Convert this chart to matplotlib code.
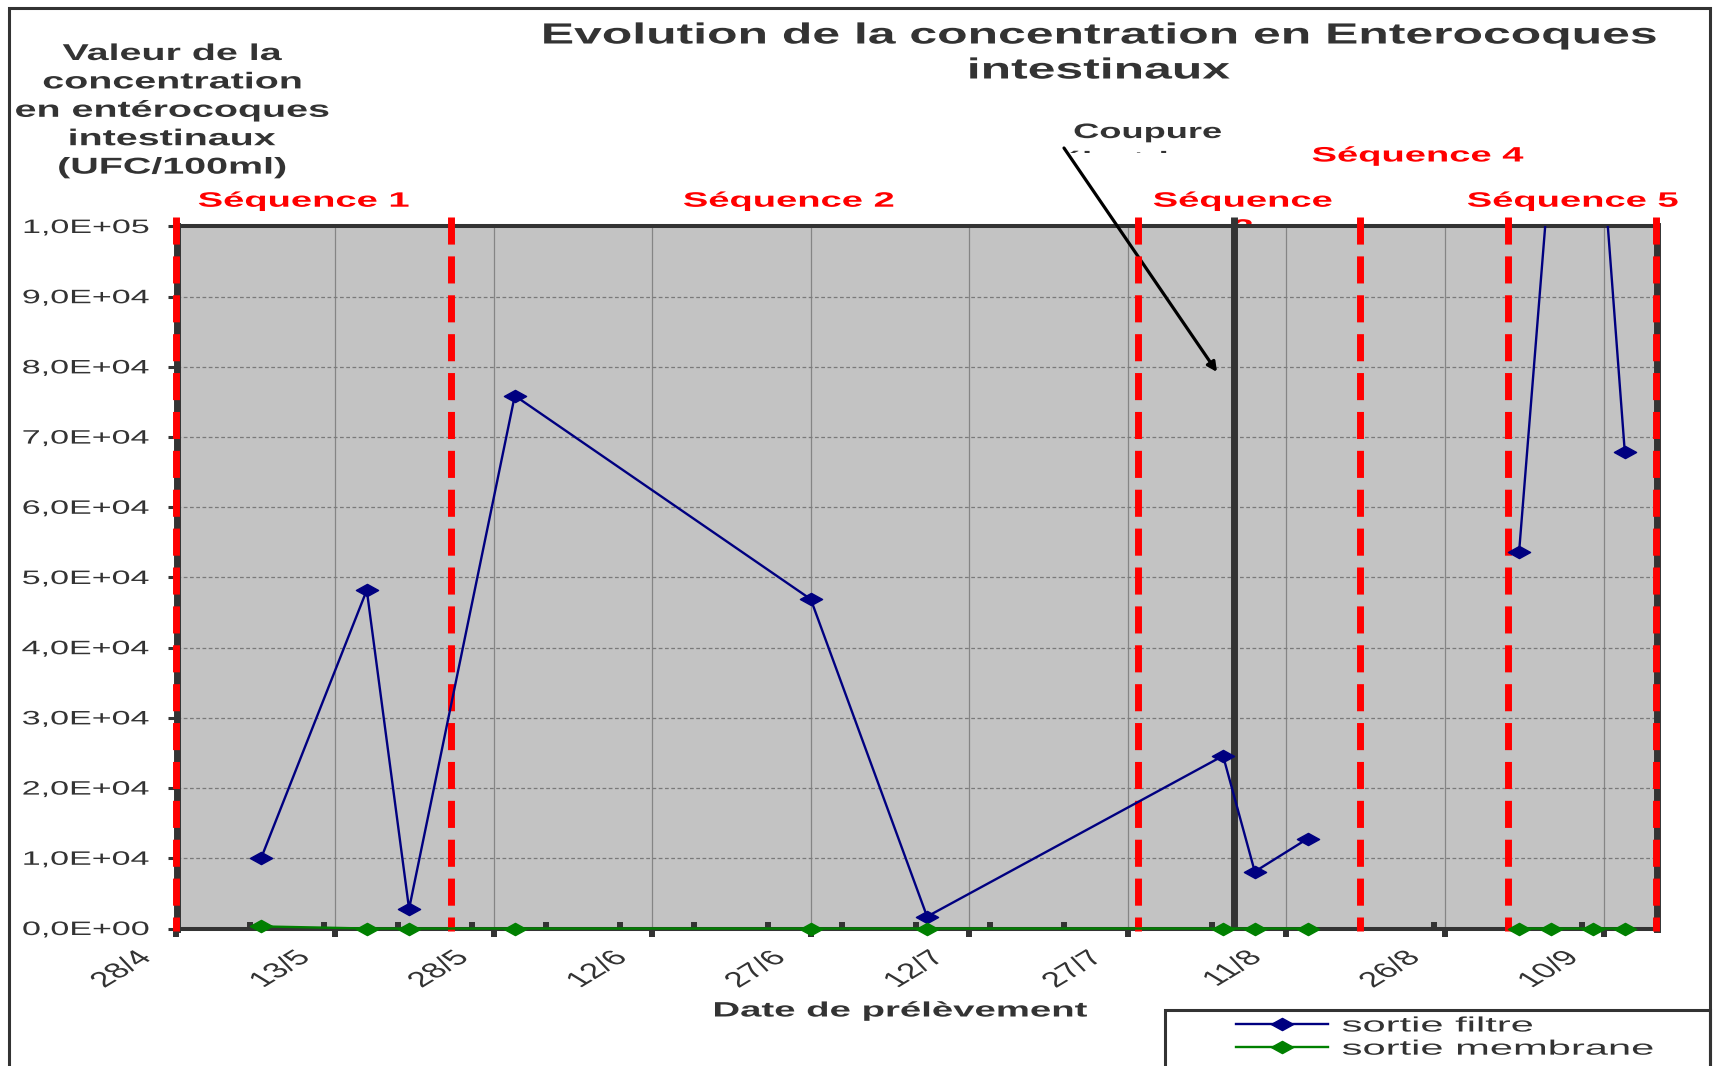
import datetime as dt

import numpy as np
import matplotlib
matplotlib.use('Agg')
import matplotlib.pyplot as plt
import matplotlib.dates as mdates
from matplotlib.patches import Rectangle
from matplotlib.path import Path
from matplotlib.patheffects import AbstractPathEffect
from matplotlib.ticker import FixedLocator, FuncFormatter
from matplotlib.transforms import Affine2D, Bbox, TransformedBbox

# ===== Data =====
YEAR = 2007
sample_dates = ['6/5', '16/5', '20/5', '30/5', '27/6', '8/7', '5/8', '8/8',
                '13/8', '20/8', '2/9', '5/9', '9/9', '12/9']
sortie_filtre = [10000, 48200, 2800, 75900, 46900, 1700, 24600, 8100,
                 12800, None, 53600, 110000, 128000, 67900]
sortie_membrane = [300, 0, 0, 0, 0, 0, 0, 0,
                   0, None, 0, 0, 0, 0]

sequence_bounds = ['28/4', '24/5', '28/7', '18/8', '1/9', '15/9']
sequence_names = ['Séquence 1', 'Séquence 2', 'Séquence\n3', 'Séquence 4', 'Séquence 5']
coupure_date = '6/8'
axis_start, axis_end = '28/4', '15/9'
y_ticks = np.arange(0, 100001, 10000)


def to_num(s):
    d, m = (int(p) for p in s.split('/'))
    return mdates.date2num(dt.date(YEAR, m, d))


def day_month(v, pos=None):
    d = mdates.num2date(v)
    return f'{d.day}/{d.month}'


def sci_fr(v, pos=None):
    return f'{v:.1E}'.replace('.', ',')


class Stretch(AbstractPathEffect):
    """Widen text horizontally on screen around an anchor on its baseline."""

    def __init__(self, sx, anchor=0.5, offset=(0., 0.)):
        super().__init__(offset)
        self.sx = sx
        self.anchor = anchor

    def draw_path(self, renderer, gc, tpath, affine, rgbFace=None):
        ext = tpath.get_extents()
        px, py = affine.transform((ext.x0 + self.anchor * ext.width, 0))
        wide = (Affine2D().translate(-px, -py).scale(self.sx, 1).translate(px, py)
                + self._offset_transform(renderer))
        renderer.draw_path(gc, tpath, affine + wide, rgbFace)


W, H = 1714, 1066
fig = plt.figure(figsize=(W / 100, H / 100), dpi=100)
plt.rcParams['font.family'] = ['Liberation Sans', 'DejaVu Sans']
DARK = '#333333'


def fx(x):
    return x / W


def fy(y):
    return 1 - y / H


def ftext(x, y, s, sx, anchor=0.5, **kw):
    t = fig.text(fx(x), fy(y), s, va='baseline', color=DARK, **kw)
    t.set_path_effects([Stretch(sx, anchor)])
    return t


x_dates = np.array([to_num(s) for s in sample_dates])
filtre = np.array([np.nan if v is None else v for v in sortie_filtre], dtype=float)
membrane = np.array([np.nan if v is None else v for v in sortie_membrane], dtype=float)
x0, x1 = to_num(axis_start), to_num(axis_end)

ax = fig.add_axes([fx(176.5), fy(928.5), (1656.5 - 176.5) / W, (928.5 - 226.5) / H])
ax.set_facecolor('#C3C3C3')
ax.set_xlim(x0, x1)
ax.set_ylim(0, 100000)
ax.set_axisbelow(True)

diamond = Path([(-1, 0), (0, 0.55), (1, 0), (0, -0.55), (-1, 0)],
               [Path.MOVETO, Path.LINETO, Path.LINETO, Path.LINETO, Path.CLOSEPOLY])

l_filtre, = ax.plot(x_dates, filtre, color='#000080', lw=1.7, marker=diamond,
                    markersize=16, zorder=6, label='sortie filtre')
l_membrane, = ax.plot(x_dates, membrane, color='#008000', lw=1.7, marker=diamond,
                      markersize=16, zorder=6, clip_on=False, label='sortie membrane')

# sequence boundaries and power cut marker
for s in sequence_bounds:
    ax.plot([to_num(s)] * 2, [101400, -400], color='red', lw=5, dashes=(3.9, 1.7),
            dash_capstyle='butt', clip_on=False, zorder=5)
ax.plot([to_num(coupure_date)] * 2, [101400, 0], color=DARK, lw=5,
        solid_capstyle='butt', clip_on=False, zorder=4)

# axes styling
for side in ['top', 'bottom']:
    ax.spines[side].set_linewidth(2.9)
for side in ['left', 'right']:
    ax.spines[side].set_linewidth(5)
for sp in ax.spines.values():
    sp.set_color(DARK)

ax.yaxis.set_major_locator(FixedLocator(y_ticks))
ax.yaxis.set_major_formatter(FuncFormatter(sci_fr))
ax.xaxis.set_major_locator(FixedLocator(np.arange(x0, x1, 15)))
ax.xaxis.set_minor_locator(FixedLocator(np.arange(x0, x1 + 1, 7)))
ax.xaxis.set_major_formatter(FuncFormatter(day_month))

ax.tick_params(axis='y', direction='out', length=6.5, width=2.2, color=DARK,
               pad=13, labelsize=14, labelcolor=DARK)
ax.tick_params(axis='x', which='major', direction='out', length=6, width=4.3,
               color=DARK, pad=13, labelsize=15.5, labelcolor=DARK)
ax.tick_params(axis='x', which='minor', direction='in', length=5, width=4.3, color=DARK)

ax.yaxis.grid(True, color='#7a7a7a', lw=0.9, linestyle=(0, (3, 2)))
ax.xaxis.grid(True, which='major', color='#858585', lw=0.9)

fig.canvas.draw()
for lab in ax.get_yticklabels():
    lab.set_path_effects([Stretch(1.75, 1.0)])
for lab in ax.get_xticklabels():
    lab.set_rotation(45)
    lab.set_ha('right')
    lab.set_va('center')
    lab.set_rotation_mode('anchor')
    lab.set_path_effects([Stretch(1.65, 1.0, offset=(-20, 0))])

# titles and labels
ftext(1099, 43.5, 'Evolution de la concentration en Enterocoques', 1.71,
      ha='center', fontsize=21, fontweight='bold')
ftext(1099, 78.5, 'intestinaux', 1.71, ha='center', fontsize=21, fontweight='bold')

ylabel_lines = ['Valeur de la', 'concentration', 'en entérocoques', 'intestinaux', '(UFC/100ml)']
for i, line in enumerate(ylabel_lines):
    ftext(172, 60 + 28.4 * i, line, 1.72, ha='center', fontsize=16.5, fontweight='bold')

ftext(901, 1016.5, 'Date de prélèvement', 1.84, ha='center', fontsize=15, fontweight='bold')

seq_pos = [(304, 206.7), (789, 206.7), (1243, 206.7), (1418, 161.5), (1573, 206.7)]
for name, (x, y) in zip(sequence_names, seq_pos):
    t = ftext(x, y, name.split('\n')[0], 1.83, ha='center', fontsize=15, fontweight='bold')
    t.set_color('red')
    if '\n' in name:
        t2 = ftext(x, y + 27, name.split('\n')[1], 1.83, ha='center', fontsize=15,
                   fontweight='bold', zorder=-1)
        t2.set_color('red')

ftext(1148, 138, 'Coupure', 1.74, ha='center', fontsize=15, fontweight='bold')
t = ftext(1148, 166, 'électrique', 1.74, ha='center', fontsize=15, fontweight='bold')
t.set_clip_box(TransformedBbox(Bbox.from_extents(0, fy(153), 1, 1), fig.transFigure))

ax.annotate('', xy=(fx(1217), fy(372)), xycoords='figure fraction',
            xytext=(fx(1064), fy(148)), textcoords='figure fraction',
            arrowprops=dict(arrowstyle='-|>', color='black', lw=2.3,
                            mutation_scale=14, shrinkA=0, shrinkB=0))

# chart frame and legend box
fig.add_artist(Rectangle((fx(8.5), -0.1), (1710 - 8.5) / W, fy(8) + 0.1,
                         transform=fig.transFigure, fill=False, ec=DARK, lw=2.2))
fig.add_artist(Rectangle((fx(1165), -0.1), (1710 - 1165) / W, fy(1010) + 0.1,
                         transform=fig.transFigure, fill=False, ec=DARK, lw=2.2))

leg = fig.legend(handles=[l_filtre, l_membrane], loc='upper left',
                 bbox_to_anchor=(fx(1236), fy(1016.5)), frameon=False, fontsize=15,
                 handlelength=4.4, handletextpad=0.7, borderpad=0, borderaxespad=0,
                 labelspacing=0.2)
for t in leg.get_texts():
    t.set_color(DARK)
    t.set_path_effects([Stretch(2.0, 0.0)])

fig.savefig('out.png', dpi=100)
